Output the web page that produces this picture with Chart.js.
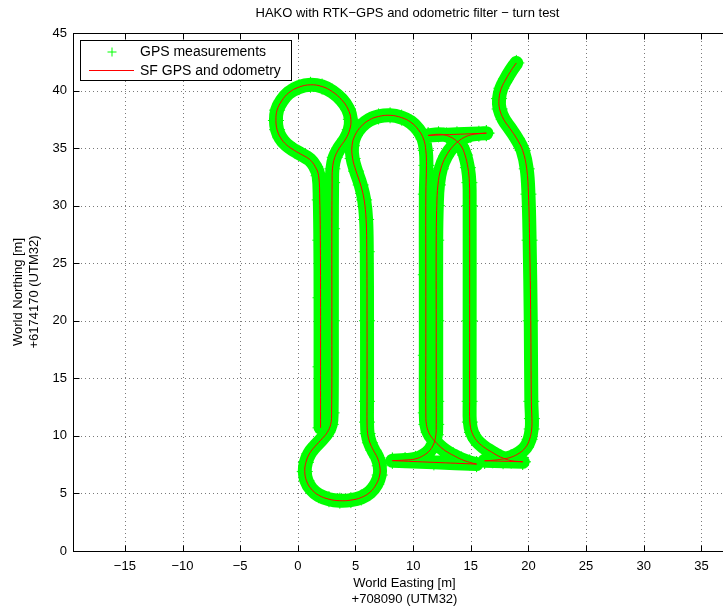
<!DOCTYPE html>
<html>
<head>
<meta charset="utf-8">
<script src="https://cdn.jsdelivr.net/npm/chart.js@4"></script>
<style>
html, body { margin: 0; padding: 0; background: #fff; overflow: hidden; }
#wrap { width: 723px; height: 612px; overflow: hidden; }
canvas { display: block; }
</style>
</head>
<body>
<div id="wrap"><canvas id="chart" width="745" height="612"></canvas></div>
<script>
// axis ticks
const eastTicks = [-15, -10, -5, 0, 5, 10, 15, 20, 25, 30, 35];
const northTicks = [0, 5, 10, 15, 20, 25, 30, 35, 40, 45];

// driven track (null = break between forward / reverse legs)
const pathEast = [
  // up the left lane, round the top loop, down again
  1.97, 1.97, 1.97, 1.95, 1.9, 1.8, 1.5, 1.04, 0.4, -0.3, -1.0, -1.5, -1.8, -1.9, -1.8, -1.4, -0.8, 0.1, 1.1, 2.1, 3.0, 3.8, 4.35, 4.6, 4.5, 4.15, 3.6, 3.2, 3.0, 2.97,
  2.95, 2.95, 2.93, 2.85, 2.55, 2.1, 1.5, 1.0, 0.7, 0.6, 0.75, 1.15, 1.8, 2.7, 3.64, 4.6, 5.5, 6.25, 6.8, 7.1, 7.1, 6.9, 6.55, 6.25, 6.05, 6.0,
  6.0, 6.0, 5.98, 5.92, 5.75, 5.45, 5.05, 4.75, 4.7, 4.95, 5.5, 6.2, 7.0, 8.0, 9.0, 9.8, 10.45, 10.9, 11.1, 11.15,
  11.1, 11.1, 11.1, 11.1, 11.15, 11.35, 11.7, 12.2, 12.8, 13.5, 14.2, 14.9, 15.5,
  null,
  15.5, 11.8, 8.2,
  null,
  8.2, 9.3, 10.2, 10.9, 11.45, 11.8, 11.97, 12.0, 12.0, 12.0, 12.0, 12.05, 12.15, 12.4, 12.85, 13.45, 14.2, 15.0, 15.7, 16.35,
  null,
  16.35, 13.8, 11.3,
  null,
  11.3, 12.2, 12.9, 13.6, 14.15, 14.5, 14.75, 14.88, 14.9, 14.9, 14.9, 14.92, 15.1, 15.5, 16.1, 16.8, 17.6, 18.5, 19.5,
  null,
  19.5, 17.8, 16.2,
  null,
  16.2, 16.9, 17.7, 18.5, 19.2, 19.75, 20.1, 20.28, 20.3, 20.25, 20.2, 20.1, 20.0, 19.85, 19.5, 19.0, 18.4, 17.85, 17.5, 17.45, 17.65, 18.05, 18.5, 18.95
];
const pathNorth = [
  10.7, 16, 22, 27, 30.5, 32.6, 33.4, 34.0, 34.4, 34.8, 35.3, 35.9, 36.6, 37.4, 38.3, 39.1, 39.8, 40.3, 40.5, 40.35, 39.9, 39.2, 38.4, 37.5, 36.6, 35.8, 35.0, 34.2, 33.2, 32.0,
  28, 20, 12, 11.0, 10.3, 9.75, 9.1, 8.45, 7.7, 6.9, 6.1, 5.4, 4.85, 4.5, 4.37, 4.42, 4.65, 5.1, 5.8, 6.6, 7.4, 8.1, 8.75, 9.4, 10.2, 11.2,
  13, 20, 26, 28.8, 30.5, 31.8, 33.0, 34.1, 35.2, 36.1, 36.9, 37.45, 37.75, 37.85, 37.65, 37.25, 36.6, 35.8, 34.8, 33.5,
  31, 24, 17, 12, 11.0, 10.3, 9.75, 9.2, 8.7, 8.3, 7.95, 7.7, 7.55,
  null,
  7.55, 7.7, 7.85,
  null,
  7.85, 7.9, 8.0, 8.3, 8.75, 9.35, 10.1, 11, 13, 20, 27, 30, 31.8, 33.2, 34.3, 35.15, 35.8, 36.15, 36.25, 36.3,
  null,
  36.3, 36.2, 36.1,
  null,
  36.1, 36.2, 36.1, 35.75, 35.2, 34.4, 33.3, 32, 30, 20, 13, 11.2, 10.3, 9.6, 9.05, 8.6, 8.15, 7.85, 7.75,
  null,
  7.75, 7.8, 7.84,
  null,
  7.84, 7.88, 7.98, 8.15, 8.5, 9.0, 9.7, 10.6, 11.5, 13, 20, 27, 31, 33.2, 34.8, 35.8, 36.7, 37.5, 38.4, 39.3, 40.2, 41.0, 41.75, 42.4
];

const points = pathEast.map((e, i) => ({ x: e, y: pathNorth[i] }));

Chart.defaults.font.family = '"Liberation Sans", Arial, Helvetica, sans-serif';
Chart.defaults.font.size = 13;
Chart.defaults.color = '#000';

const FONT = '13px "Liberation Sans", Arial, Helvetica, sans-serif';

const matlabAxes = {
  id: 'matlabAxes',
  beforeDatasetsDraw(chart) {
    const { ctx, chartArea: a } = chart;
    const xs = chart.scales.x, ys = chart.scales.y;
    ctx.save();
    ctx.strokeStyle = '#7a7a7a';
    ctx.lineWidth = 1;
    ctx.setLineDash([1, 3]);
    ctx.beginPath();
    xs.ticks.forEach(t => {
      const px = Math.round(xs.getPixelForValue(t.value)) + 0.5;
      ctx.moveTo(px, a.top); ctx.lineTo(px, a.bottom);
    });
    ys.ticks.forEach(t => {
      const py = Math.round(ys.getPixelForValue(t.value)) + 0.5;
      ctx.moveTo(a.left, py); ctx.lineTo(a.right, py);
    });
    ctx.stroke();
    ctx.restore();
  },
  afterDatasetsDraw(chart) {
    const { ctx, chartArea: a } = chart;
    const xs = chart.scales.x, ys = chart.scales.y;
    const L = Math.round(a.left) + 0.5, R = Math.round(a.right) + 0.5;
    const T = Math.round(a.top) + 0.5, B = Math.round(a.bottom) + 0.5;
    ctx.save();
    ctx.strokeStyle = '#000';
    ctx.lineWidth = 1;
    ctx.strokeRect(L, T, R - L, B - T);
    ctx.beginPath();
    xs.ticks.forEach(t => {
      const px = Math.round(xs.getPixelForValue(t.value)) + 0.5;
      ctx.moveTo(px, B); ctx.lineTo(px, B - 6);
      ctx.moveTo(px, T); ctx.lineTo(px, T + 6);
    });
    ys.ticks.forEach(t => {
      const py = Math.round(ys.getPixelForValue(t.value)) + 0.5;
      ctx.moveTo(L, py); ctx.lineTo(L + 6, py);
      ctx.moveTo(R, py); ctx.lineTo(R - 6, py);
    });
    ctx.stroke();

    // title
    ctx.fillStyle = '#000';
    ctx.font = FONT;
    ctx.textAlign = 'center';
    ctx.textBaseline = 'middle';
    ctx.fillText('HAKO with RTK\u2212GPS and odometric filter \u2212 turn test', (a.left + a.right) / 2 + 3, 13);

    // legend box
    ctx.fillStyle = '#fff';
    ctx.fillRect(80.5, 40.5, 211, 40);
    ctx.strokeRect(80.5, 40.5, 211, 40);
    ctx.strokeStyle = '#00ff00';
    ctx.beginPath();
    ctx.moveTo(107.5, 52); ctx.lineTo(116.5, 52);
    ctx.moveTo(112, 47.5); ctx.lineTo(112, 56.5);
    ctx.stroke();
    ctx.strokeStyle = '#ff0000';
    ctx.beginPath();
    ctx.moveTo(89, 70.5); ctx.lineTo(134, 70.5);
    ctx.stroke();
    ctx.fillStyle = '#000';
    ctx.textAlign = 'left';
    ctx.font = '14px "Liberation Sans", Arial, Helvetica, sans-serif';
    ctx.fillText('GPS measurements', 140, 52);
    ctx.fillText('SF GPS and odometry', 140, 71);
    ctx.restore();
  }
};

const minus = v => String(v).replace('-', '\u2212');

new Chart(document.getElementById('chart'), {
  type: 'scatter',
  data: {
    datasets: [
      {
        label: 'SF GPS and odometry',
        data: points,
        showLine: true,
        spanGaps: false,
        borderColor: '#ff0000',
        borderWidth: 1,
        pointRadius: 0,
        tension: 0.4
      },
      {
        label: 'GPS measurements',
        data: points,
        showLine: true,
        spanGaps: false,
        borderColor: '#00ff00',
        borderWidth: 14,
        borderCapStyle: 'round',
        borderJoinStyle: 'round',
        tension: 0.4,
        pointStyle: 'cross',
        pointRadius: 8,
        pointBorderWidth: 1,
        pointBorderColor: '#00ff00',
        pointBackgroundColor: '#00ff00'
      }
    ]
  },
  options: {
    responsive: false,
    animation: false,
    devicePixelRatio: 1,
    layout: { padding: { left: 0, right: 8, top: 33, bottom: 0 } },
    plugins: { legend: { display: false }, tooltip: { enabled: false } },
    scales: {
      x: {
        type: 'linear',
        position: 'bottom',
        min: -19.5,
        max: 38,
        afterBuildTicks: s => { s.ticks = eastTicks.map(v => ({ value: v })); },
        afterFit: s => { s.height = 61; },
        grid: { display: false, drawTicks: false },
        border: { display: false },
        ticks: { padding: 8, callback: v => minus(v), maxRotation: 0, autoSkip: false },
        title: {
          display: true,
          text: ['World Easting [m]', '+708090 (UTM32)'],
          font: { size: 13, lineHeight: 1.25 },
          padding: { top: 0, bottom: 4 }
        }
      },
      y: {
        type: 'linear',
        position: 'left',
        min: 0,
        max: 45,
        afterBuildTicks: s => { s.ticks = northTicks.map(v => ({ value: v })); },
        afterFit: s => { s.width = 73; },
        grid: { display: false, drawTicks: false },
        border: { display: false },
        ticks: { padding: 6, autoSkip: false },
        title: {
          display: true,
          text: ['World Northing [m]', '+6174170 (UTM32)'],
          font: { size: 13, lineHeight: 1.25 },
          padding: { top: 10, bottom: 0 }
        }
      }
    }
  },
  plugins: [matlabAxes]
});
</script>
</body>
</html>
